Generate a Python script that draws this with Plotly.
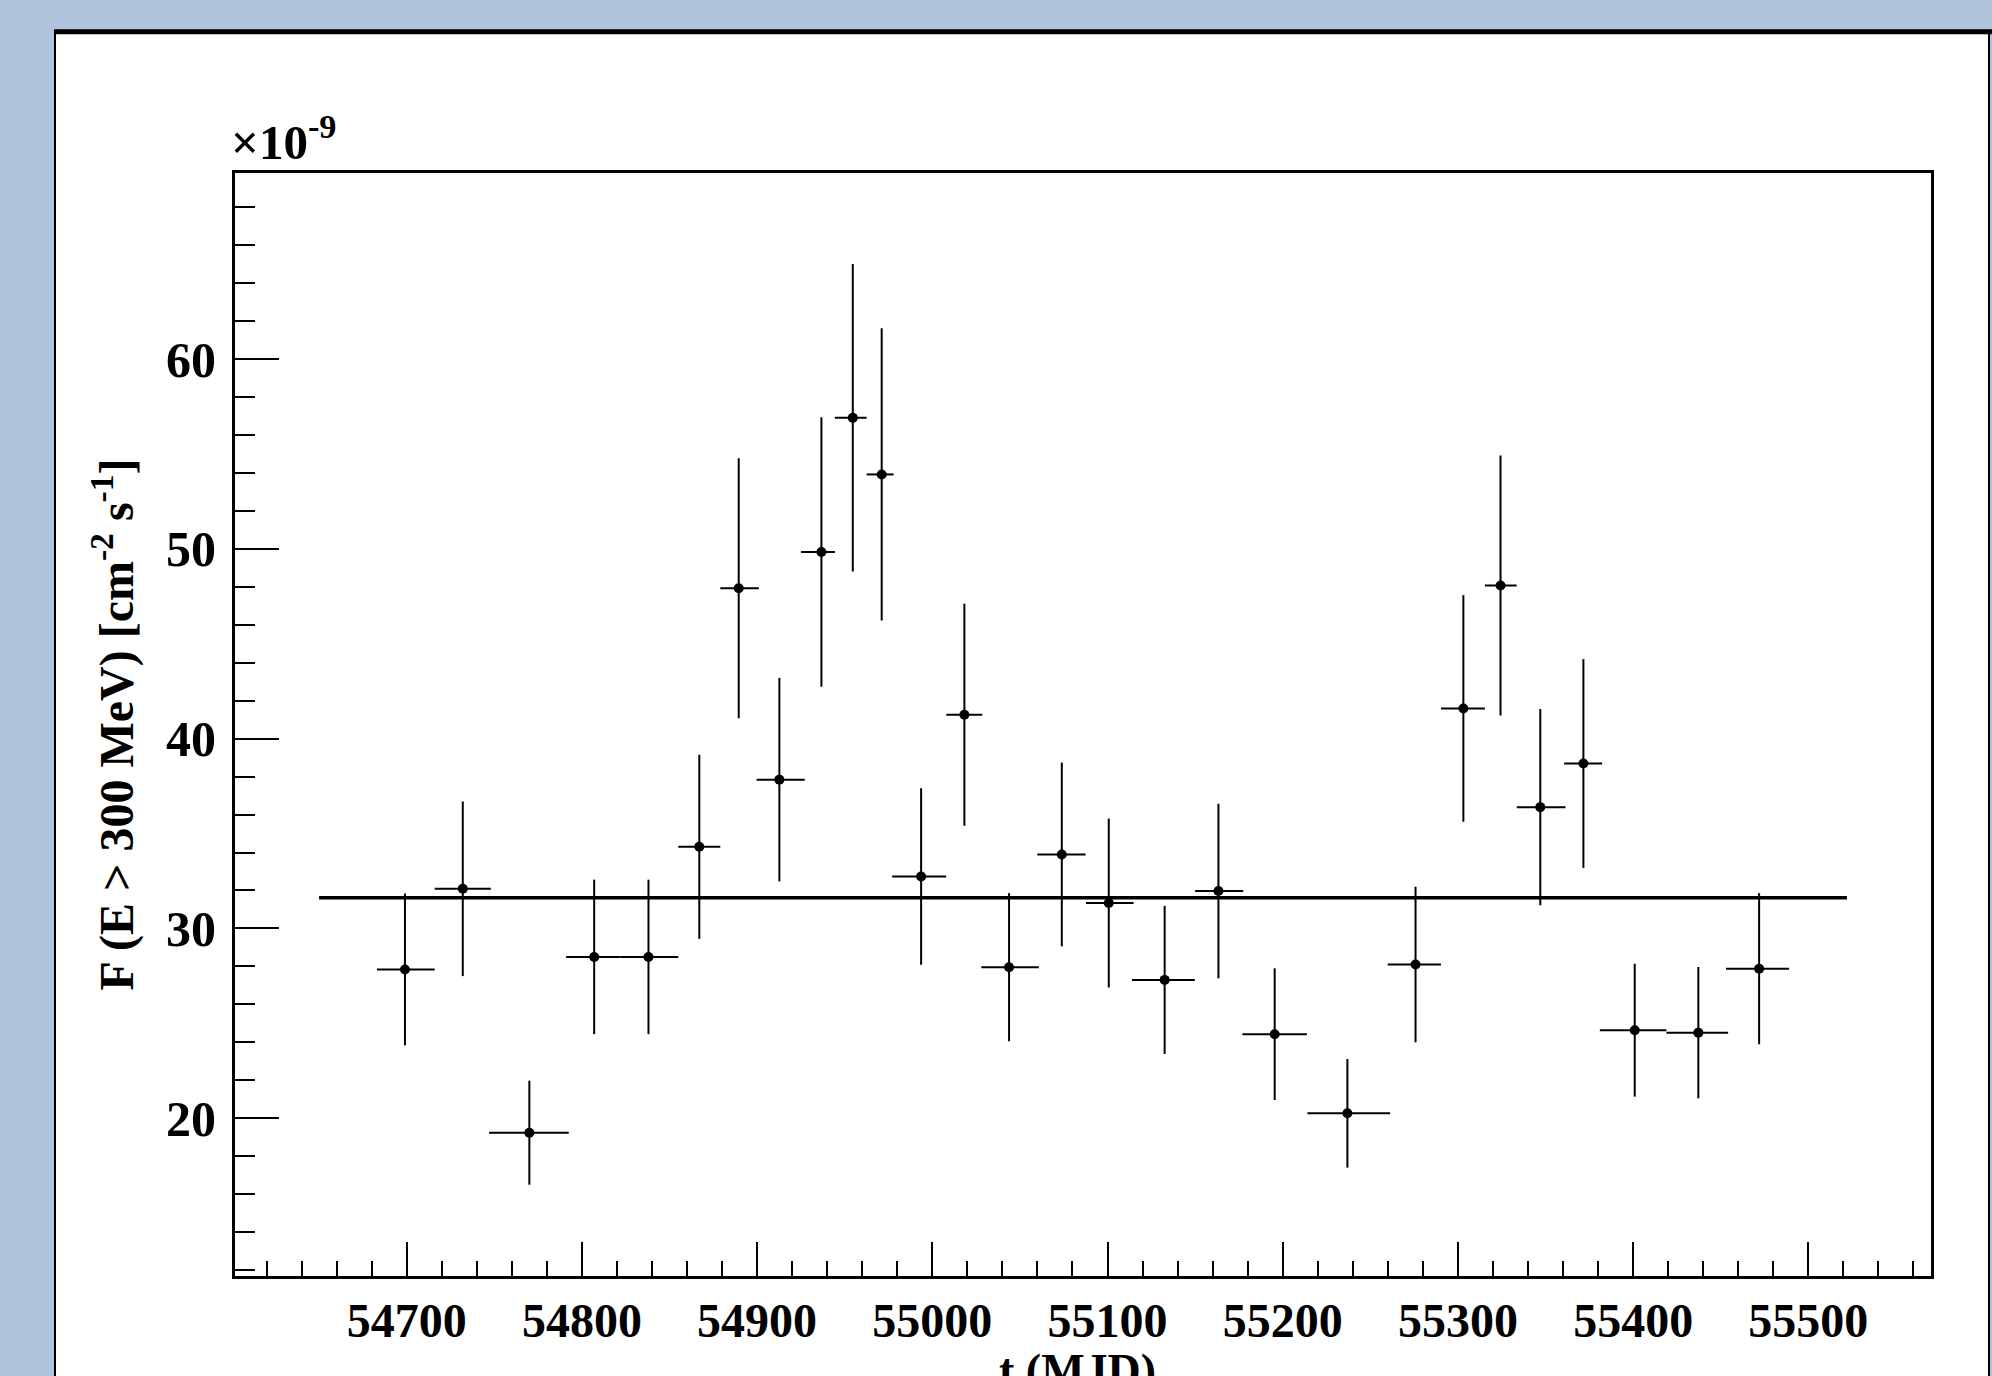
import plotly.graph_objects as go

# ---- data (flux in units of 1e-9 cm^-2 s^-1, time in MJD) ----
t_mjd = [54699, 54732, 54770, 54807, 54838, 54867, 54889.5, 54912.7, 54936.7, 54954.6,
         54971.1, 54993.6, 55018.3, 55043.8, 55073.9, 55100.7, 55132.6, 55163.3, 55195.4,
         55236.9, 55275.8, 55303.1, 55324.3, 55347, 55371.6, 55400.9, 55437.2, 55471.9]
flux = [27.84, 32.09, 19.24, 28.5, 28.5, 34.3, 47.92, 37.84, 49.83, 56.9,
        53.92, 32.74, 41.26, 27.96, 33.9, 31.34, 27.29, 31.97, 24.43,
        20.26, 28.1, 41.59, 48.07, 36.39, 38.69, 24.64, 24.51, 27.88]
flux_err = [4.0, 4.6, 2.74, 4.07, 4.07, 4.85, 6.85, 5.36, 7.1, 8.1,
            7.7, 4.65, 5.85, 3.9, 4.84, 4.45, 3.9, 4.6, 3.47,
            2.86, 4.1, 5.97, 6.85, 5.17, 5.5, 3.5, 3.46, 3.98]
t_err_lo = [16, 16, 23, 16, 16, 12, 10.5, 13, 11.7, 10.2,
            8.6, 16.5, 10.3, 15.8, 14, 13, 18.6, 13.3, 18.4,
            22.8, 15.9, 12.8, 8.9, 13.4, 11, 19.9, 18.2, 18.9]
t_err_hi = [17, 16, 22.5, 15, 17, 12, 11.5, 14.5, 7.7, 7.9,
            6.8, 14.3, 10.2, 17, 13.6, 14.2, 17.2, 14.2, 18.4,
            24.4, 14.5, 12.3, 9.2, 14.4, 10.7, 18.1, 17, 17.1]
const_flux = 31.62
const_t = [54650, 55522]

x_range = [54602, 55570]
y_range = [11.69, 69.80]

W, H = 1992, 1376
L, R, T, B = 235, 61, 173, 100
pw, ph = W - L - R, H - T - B


def px(x):
    return (x - L) / pw


def py(y):
    return (H - B - y) / ph


FONT = "Liberation Serif"

fig = go.Figure()

fig.add_trace(go.Scatter(
    x=const_t, y=[const_flux, const_flux], mode="lines",
    line=dict(color="black", width=3.5), showlegend=False, hoverinfo="skip"))

fig.add_trace(go.Scatter(
    x=t_mjd, y=flux, mode="markers",
    marker=dict(color="black", size=10, symbol="circle"),
    error_y=dict(type="data", array=flux_err, symmetric=True, color="black",
                 thickness=2, width=0),
    error_x=dict(type="data", array=t_err_hi, arrayminus=t_err_lo, symmetric=False,
                 color="black", thickness=2, width=0),
    showlegend=False))

axis_common = dict(showgrid=False, zeroline=False, showline=True, linecolor="black",
                   linewidth=3, mirror=True, ticks="inside", tickcolor="black",
                   tickwidth=1.5, tickformat="d")

fig.update_xaxes(range=x_range, dtick=100, tick0=0, ticklen=34,
                 minor=dict(dtick=20, tick0=0, ticks="inside", ticklen=15,
                            tickcolor="black", tickwidth=1.5),
                 tickfont=dict(family=FONT, size=48, color="black", weight="bold"),
                 **axis_common)
fig.update_yaxes(range=y_range, dtick=10, tick0=0, ticklen=44,
                 minor=dict(dtick=2, tick0=0, ticks="inside", ticklen=20,
                            tickcolor="black", tickwidth=1.5),
                 ticklabelstandoff=6,
                 tickfont=dict(family=FONT, size=50, color="black", weight="bold"),
                 **axis_common)

shapes = [
    dict(type="rect", xref="paper", yref="paper", x0=px(55), x1=px(1989),
         y0=py(1420), y1=py(31), fillcolor="white",
         line=dict(color="black", width=2), layer="below"),
    dict(type="line", xref="paper", yref="paper", x0=px(54), x1=px(1992),
         y0=py(31.8), y1=py(31.8), line=dict(color="black", width=5), layer="below"),
]

annotations = [
    dict(text="F (E > 300 MeV) [cm<sup>-2</sup> s<sup>-1</sup>]", textangle=-90,
         xref="paper", yref="paper", x=px(113), y=0.5, xanchor="center", yanchor="middle",
         showarrow=False, font=dict(family=FONT, size=48, color="black", weight="bold")),
    dict(text="t (MJD)", xref="paper", yref="paper", x=px(1077), y=py(1343),
         xanchor="center", yanchor="top", showarrow=False,
         font=dict(family=FONT, size=46, color="black", weight="bold")),
    dict(text="\u00d710<sup>-9</sup>", xref="paper", yref="paper", x=px(229), y=py(172),
         xanchor="left", yanchor="bottom", showarrow=False,
         font=dict(family=FONT, size=49, color="black", weight="bold")),
]

fig.update_layout(width=W, height=H, margin=dict(l=L, r=R, t=T, b=B, autoexpand=False),
                  paper_bgcolor="#b0c4de", plot_bgcolor="white",
                  shapes=shapes, annotations=annotations)

fig.write_html("out.html")
